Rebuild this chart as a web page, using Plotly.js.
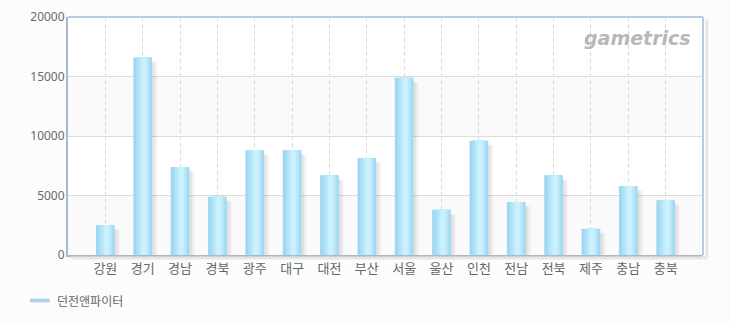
<!DOCTYPE html>
<html>
<head>
<meta charset="utf-8">
<script src="https://cdn.plot.ly/plotly-3.0.1.min.js"></script>
<style>
  html, body { margin: 0; padding: 0; background: #fcfcfc; }
  #chart { width: 730px; height: 325px; }
</style>
</head>
<body>
<div id="chart"></div>
<script>
// Regions (x-axis categories)
const regions = ['강원', '경기', '경남', '경북', '광주', '대구', '대전', '부산', '서울',
                 '울산', '인천', '전남', '전북', '제주', '충남', '충북'];
// Series: 던전앤파이터
const seriesName = '던전앤파이터';
const dnfValues = [2500, 16600, 7400, 4900, 8800, 8800, 6700, 8150, 14900,
                   3800, 9600, 4450, 6700, 2200, 5800, 4600];
// Y-axis ticks
const yTicks = [0, 5000, 10000, 15000, 20000];

const barW = 0.5;
const traces = [];

// soft drop shadow to the right of each bar
const shadowLayers = [
  { dx: 0.15, drop: 420, color: 'rgba(0,0,0,0.025)' },
  { dx: 0.11, drop: 360, color: 'rgba(0,0,0,0.035)' },
  { dx: 0.07, drop: 300, color: 'rgba(0,0,0,0.04)' }
];
shadowLayers.forEach(s => {
  traces.push({
    type: 'bar', x: regions, y: dnfValues.map(v => Math.max(v - s.drop, 0)),
    width: barW, offset: -barW / 2 + s.dx,
    marker: { color: s.color, line: { width: 0 } },
    hoverinfo: 'skip', showlegend: false
  });
});

// horizontal gradient for the bars, built from narrowing bands
// (lightest band sits a little right of centre)
const gradient = [
  { w: 0.50, shift: 0.000, c: '#9ed7f2' },
  { w: 0.40, shift: 0.015, c: '#a9ddf5' },
  { w: 0.31, shift: 0.025, c: '#b4e4f8' },
  { w: 0.22, shift: 0.030, c: '#bdeafa' },
  { w: 0.14, shift: 0.035, c: '#c5effc' },
  { w: 0.07, shift: 0.035, c: '#cbf2fd' }
];
gradient.forEach((g, i) => {
  traces.push({
    type: 'bar', x: regions, y: dnfValues,
    width: g.w, offset: -g.w / 2 + g.shift,
    marker: { color: g.c, line: { width: 0 } },
    name: seriesName,
    hoverinfo: i === 0 ? 'x+y' : 'skip',
    showlegend: false
  });
});

const shapes = [
  // alternating bands
  { type: 'rect', xref: 'paper', yref: 'y', x0: 0, x1: 1, y0: yTicks[0], y1: yTicks[1],
    fillcolor: '#fafafa', line: { width: 0 }, layer: 'below' },
  { type: 'rect', xref: 'paper', yref: 'y', x0: 0, x1: 1, y0: yTicks[2], y1: yTicks[3],
    fillcolor: '#fafafa', line: { width: 0 }, layer: 'below' },
  // frame shadow (right and bottom)
  { type: 'line', xref: 'paper', yref: 'paper', x0: 1.006, x1: 1.006, y0: -0.012, y1: 0.99,
    line: { color: '#e6e6e6', width: 3 } },
  { type: 'line', xref: 'paper', yref: 'paper', x0: 0.005, x1: 1.006, y0: -0.013, y1: -0.013,
    line: { color: '#e6e6e6', width: 3 } },
  // top and right frame
  { type: 'line', xref: 'paper', yref: 'paper', x0: 0, x1: 1, y0: 1, y1: 1,
    line: { color: '#b9cbe0', width: 2 } },
  { type: 'line', xref: 'paper', yref: 'paper', x0: 1, x1: 1, y0: 0, y1: 1,
    line: { color: '#b9cbe0', width: 2 } },
  // legend swatch
  { type: 'line', xref: 'paper', yref: 'paper', x0: -0.059, x1: -0.028, y0: -0.197, y1: -0.197,
    line: { color: '#e2e2e2', width: 2 } },
  { type: 'line', xref: 'paper', yref: 'paper', x0: -0.06, x1: -0.029, y0: -0.19, y1: -0.19,
    line: { color: '#9dd5f1', width: 3 } }
];

const layout = {
  width: 730, height: 325,
  margin: { l: 68, r: 27, t: 17, b: 70 },
  paper_bgcolor: '#fcfcfc',
  plot_bgcolor: '#ffffff',
  barmode: 'overlay',
  font: { family: '"Noto Sans CJK KR", "DejaVu Sans", sans-serif', color: '#666666', size: 11 },
  xaxis: {
    type: 'category',
    range: [-1, regions.length],
    showgrid: true, gridcolor: '#d9d9d9', griddash: '4px,3px', gridwidth: 1,
    showline: true, linecolor: '#a9b8ca', linewidth: 2,
    ticks: '', tickfont: { size: 13, color: '#666666' },
    fixedrange: true
  },
  yaxis: {
    range: [yTicks[0], yTicks[yTicks.length - 1]],
    tickvals: yTicks, ticktext: yTicks.map(String),
    showgrid: true, gridcolor: '#dcdcdc', gridwidth: 1,
    zeroline: false,
    showline: true, linecolor: '#a9b8ca', linewidth: 2,
    ticks: '', ticklen: 0, ticklabelstandoff: -1,
    tickfont: { size: 12, color: '#6a6a6a', family: '"Noto Sans", "DejaVu Sans", sans-serif' },
    fixedrange: true
  },
  shapes: shapes,
  showlegend: false,
  annotations: [
    {
      xref: 'paper', yref: 'paper', x: -0.021, y: -0.19, xanchor: 'left', yanchor: 'middle',
      text: seriesName, showarrow: false,
      font: { size: 12, color: '#666666' }
    },
    {
      xref: 'paper', yref: 'paper', x: 0.985, y: 0.965, xanchor: 'right', yanchor: 'top',
      text: '<b><i>gametrics</i></b>', showarrow: false,
      font: { family: '"DejaVu Sans", sans-serif', size: 19, color: '#b8b8b8' }
    }
  ]
};

Plotly.newPlot('chart', traces, layout, { displayModeBar: false, staticPlot: true });
</script>
</body>
</html>
